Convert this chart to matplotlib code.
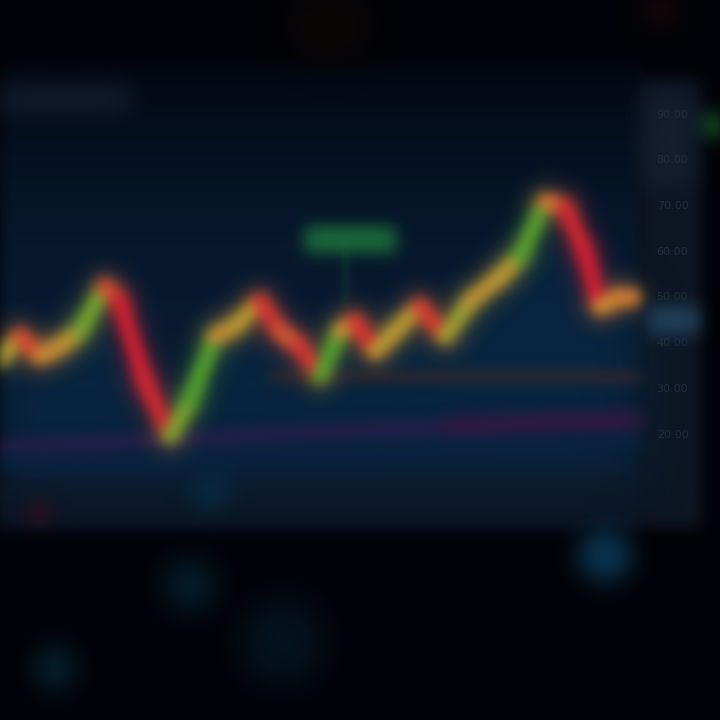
import numpy as np
import matplotlib
matplotlib.use("Agg")
import matplotlib.pyplot as plt
from matplotlib.collections import LineCollection
from matplotlib.colors import LinearSegmentedColormap
from matplotlib.patches import Rectangle, Circle

# ---------------- data ----------------
days = [0, 4, 8, 12, 16, 21, 24, 29, 34, 38, 43, 47, 52, 56, 60, 64, 68, 71,
        75, 79, 84, 89, 94, 100, 104, 109, 113, 117, 120, 124, 128]
prices = [35.9, 41.3, 37.0, 39.1, 42.4, 52.2, 48.9, 31.5, 19.6, 27.2, 41.3,
          43.5, 48.9, 42.4, 39.1, 32.6, 42.4, 44.6, 38.0, 42.4, 47.8, 41.3,
          48.9, 54.3, 58.7, 70.7, 69.6, 59.8, 47.8, 50.0, 50.0]
ma_days = [0, 30, 60, 90, 128]
ma_slow = [17.0, 18.2, 20.0, 21.3, 22.8]
ma_fast_days = [0, 25, 50, 75, 100, 128]
ma_fast = [14.0, 13.0, 15.5, 16.5, 17.5, 18.5]
resist_level = 32.6
tick_vals = [20, 30, 40, 50, 60, 70, 80, 90]
tick_labels = ["20.00", "30.00", "40.00", "50.00", "60.00", "70.00", "80.00", "90.00"]
last_label_value = 45.0
signal_day, signal_price = 70, 62.5


# ---------------- blur filter (agg) ----------------
class Blur:
    def __init__(self, sigma):
        self.sigma = sigma

    def __call__(self, im, dpi):
        s = self.sigma * dpi / 100.0
        pad = int(3 * s) + 1
        ny, nx, d = im.shape
        p = np.zeros((ny + 2 * pad, nx + 2 * pad, d))
        p[pad:pad + ny, pad:pad + nx] = im
        a = p[..., 3:4]
        pm = np.concatenate([p[..., :3] * a, a], axis=2)
        x = np.arange(-pad, pad + 1)
        k = np.exp(-0.5 * (x / s) ** 2)
        k /= k.sum()
        out = np.zeros_like(pm)
        for i, w in zip(x, k):
            out += w * np.roll(pm, i, axis=0)
        out2 = np.zeros_like(pm)
        for i, w in zip(x, k):
            out2 += w * np.roll(out, i, axis=1)
        alpha = out2[..., 3:4]
        rgb = np.where(alpha > 1e-6, out2[..., :3] / np.maximum(alpha, 1e-6), 0)
        res = np.concatenate([np.clip(rgb, 0, 1), np.clip(alpha, 0, 1)], axis=2)
        return res, -pad, -pad


fig = plt.figure(figsize=(7.2, 7.2), dpi=100, facecolor="#020308")

# ---------------- background layer (pixel coords) ----------------
bg = fig.add_axes([0, 0, 1, 1], zorder=0)
bg.set_xlim(0, 720)
bg.set_ylim(720, 0)
bg.axis("off")
bg.set_facecolor("#020308")

panel_cmap = LinearSegmentedColormap.from_list(
    "panel", ["#040a14", "#071528", "#0a1c32", "#0a1b30", "#0c1726"])
im = bg.imshow(np.linspace(0, 1, 400).reshape(-1, 1), cmap=panel_cmap,
               extent=(-10, 645, 525, 68), aspect="auto", zorder=1,
               interpolation="bilinear")
im.set_agg_filter(Blur(7))

for (x0, y0, w, h, c, s) in [(-10, 84, 140, 30, "#111b2a", 10),
                             (640, 80, 60, 445, "#0e1724", 7),
                             (645, 95, 45, 90, "#151f2f", 12),
                             (0, 470, 640, 55, "#0c1524", 9)]:
    r = Rectangle((x0, y0), w, h, color=c, zorder=2)
    r.set_agg_filter(Blur(s))
    bg.add_patch(r)

# bokeh spots
for (cx, cy, rad, c, s) in [(190, 585, 24, "#05202f", 14),
                            (282, 642, 40, "#051420", 16),
                            (55, 668, 20, "#06222f", 12),
                            (605, 555, 26, "#0a3550", 12),
                            (210, 492, 18, "#092a3d", 12),
                            (40, 512, 12, "#320c16", 9),
                            (716, 125, 12, "#1c6a34", 9),
                            (660, 8, 16, "#1a0707", 12),
                            (330, 20, 40, "#0b0705", 16)]:
    c0 = Circle((cx, cy), rad, color=c, zorder=3)
    c0.set_agg_filter(Blur(s))
    bg.add_patch(c0)

# ---------------- main chart ----------------
ax = fig.add_axes([0, (720 - 525) / 720, 640 / 720, (525 - 68) / 720], zorder=2)
ax.set_facecolor("none")
ax.set_xlim(0, 128)
ax.set_ylim(0, 100)
for sp in ax.spines.values():
    sp.set_visible(False)
ax.set_xticks([])
ax.yaxis.tick_right()
ax.set_yticks(tick_vals)
ax.set_yticklabels(tick_labels)
ax.tick_params(axis="y", length=0, pad=12, labelsize=8, colors="#222c3d")

d = np.array(days, float)
p = np.array(prices, float)

# glow area under the line
fb = ax.fill_between(d, p, 8, color="#0c3556", alpha=0.45, lw=0, zorder=1)
fb.set_agg_filter(Blur(18))

# horizontal bands / moving averages
l1, = ax.plot([55, 128], [resist_level, resist_level], color="#30262e", lw=8, zorder=2)
l1.set_agg_filter(Blur(6))
l2, = ax.plot(ma_days, ma_slow, color="#2c1d4e", lw=10, zorder=2)
l2.set_agg_filter(Blur(7))
l2b, = ax.plot(ma_days[-2:], ma_slow[-2:], color="#3f1538", lw=8, zorder=2)
l2b.set_agg_filter(Blur(9))
l3, = ax.plot(ma_fast_days, ma_fast, color="#0b2442", lw=10, zorder=2)
l3.set_agg_filter(Blur(8))

# signal label + stem
stem, = ax.plot([signal_day - 1, signal_day - 1], [signal_price, 48], color="#164a36",
                lw=2, zorder=3)
stem.set_agg_filter(Blur(4))
box = Rectangle((signal_day - 9, signal_price - 2.6), 18, 5.2, color="#1b6e3a", zorder=3)
box.set_agg_filter(Blur(8))
ax.add_patch(box)

# price line colored by slope
slope_cmap = LinearSegmentedColormap.from_list(
    "slope", [(0.0, "#d42032"), (0.3, "#d83a30"), (0.45, "#d86a34"),
              (0.62, "#d08c34"), (0.78, "#b8a032"), (0.9, "#7aa830"), (1.0, "#55a22e")])
slopes = np.diff(p) / np.diff(d)
norm_s = np.clip((slopes + 3.0) / 5.5, 0, 1)
segs = [[(d[i], p[i]), (d[i + 1], p[i + 1])] for i in range(len(d) - 1)]
cols = slope_cmap(norm_s)
glow = LineCollection(segs, colors=cols, linewidths=20, capstyle="round",
                      joinstyle="round", alpha=0.4, zorder=4)
glow.set_agg_filter(Blur(11))
ax.add_collection(glow)
lc = LineCollection(segs, colors=cols, linewidths=11, capstyle="round",
                    joinstyle="round", zorder=5)
lc.set_agg_filter(Blur(6))
ax.add_collection(lc)

# last price label on right axis
lab = Rectangle((129.5, last_label_value - 3), 10, 6, color="#213f58", zorder=6,
                clip_on=False)
lab.set_agg_filter(Blur(8))
ax.add_patch(lab)

fig.savefig("out.png", dpi=100, facecolor=fig.get_facecolor())
